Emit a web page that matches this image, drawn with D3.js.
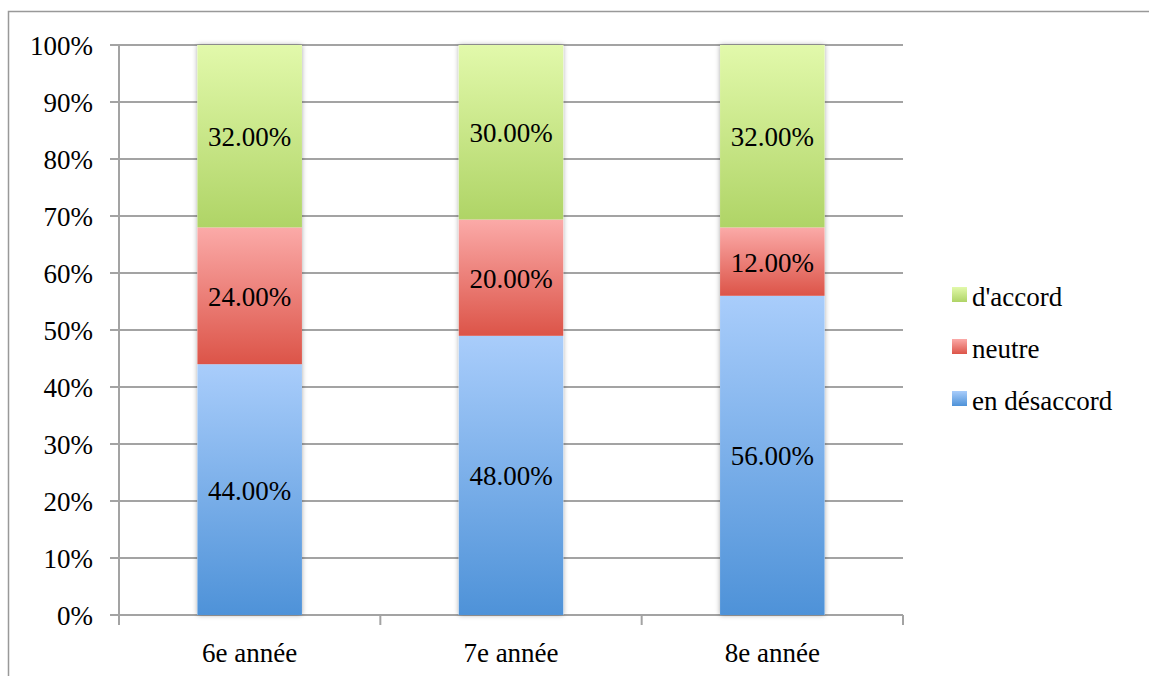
<!DOCTYPE html>
<html><head><meta charset="utf-8">
<script src="https://cdn.jsdelivr.net/npm/d3@7"></script>
<style>
html,body{margin:0;padding:0;background:#fff;}
</style></head>
<body><svg id="c" width="1149" height="676"></svg>
<script>
const categories = ["6e année", "7e année", "8e année"];
const seriesNames = ["en désaccord", "neutre", "d'accord"];
const enDesaccord = [44, 48, 56];
const neutre = [24, 20, 12];
const dAccord = [32, 30, 32];
const yTicks = [0, 0.1, 0.2, 0.3, 0.4, 0.5, 0.6, 0.7, 0.8, 0.9, 1];

const FONT = "'Liberation Serif', Tinos, 'Times New Roman', Times, 'DejaVu Serif', 'Noto Serif', serif";
const svg = d3.select("#c").style("font-family", FONT);
const W = 1149, H = 676;
const m = {l: 119, r: 903, t: 45, b: 615};
const fs = 27;

const rows = categories.map((c, i) => ({cat: c, "en désaccord": enDesaccord[i], "neutre": neutre[i], "d'accord": dAccord[i]}));
const stack = d3.stack().keys(seriesNames).offset(d3.stackOffsetExpand);
const layers = stack(rows);

const x = d3.scaleBand().domain(categories).range([m.l, m.r]).paddingInner(0.6).paddingOuter(0.3);
const xOuter = d3.scaleBand().domain(categories).range([m.l, m.r]);
const y = d3.scaleLinear().domain([0, 1]).range([m.b, m.t]);

const colors = {
  "en désaccord": ["#a9cdfb", "#4e92d8"],
  "neutre": ["#fbaaa8", "#dc5448"],
  "d'accord": ["#e2f9ab", "#afd466"]
};
const defs = svg.append("defs");
seriesNames.forEach((s, i) => {
  const g = defs.append("linearGradient").attr("id", "g" + i).attr("x1", 0).attr("y1", 0).attr("x2", 0).attr("y2", 1);
  g.append("stop").attr("offset", "0%").attr("stop-color", colors[s][0]);
  g.append("stop").attr("offset", "100%").attr("stop-color", colors[s][1]);
});
const f = defs.append("filter").attr("id", "sh").attr("x", "-10%").attr("y", "-5%").attr("width", "120%").attr("height", "110%");
f.append("feDropShadow").attr("dx", 0).attr("dy", 0).attr("stdDeviation", 2.5).attr("flood-color", "#000").attr("flood-opacity", 0.35);

svg.append("rect").attr("x", 8.5).attr("y", 11.5).attr("width", W + 20).attr("height", H + 20)
  .attr("fill", "none").attr("stroke", "#999").attr("stroke-width", 1.5);

svg.append("g").selectAll("line").data(yTicks).join("line")
  .attr("x1", m.l - 9).attr("x2", m.r).attr("y1", d => y(d)).attr("y2", d => y(d))
  .attr("stroke", "#a3a3a3").attr("stroke-width", 2);

svg.append("line").attr("x1", m.l).attr("x2", m.l).attr("y1", m.t).attr("y2", m.b + 10)
  .attr("stroke", "#a3a3a3").attr("stroke-width", 2);
const xTickPos = categories.map(c => xOuter(c)).concat([m.r]);
svg.append("g").selectAll("line").data(xTickPos).join("line")
  .attr("x1", d => d).attr("x2", d => d).attr("y1", m.b).attr("y2", m.b + 10)
  .attr("stroke", "#a3a3a3").attr("stroke-width", 2);

svg.append("g").selectAll("text").data(yTicks).join("text")
  .attr("x", 93).attr("y", d => y(d) + 10).attr("text-anchor", "end")
  .style("font-family", FONT).attr("font-size", fs).text(d => d3.format(".0%")(d));

svg.append("g").selectAll("text").data(categories).join("text")
  .attr("x", d => x(d) + x.bandwidth() / 2).attr("y", 662).attr("text-anchor", "middle")
  .style("font-family", FONT).attr("font-size", fs).text(d => d);

const gBars = svg.append("g");
gBars.selectAll("rect.shadow").data(categories).join("rect").attr("class", "shadow")
  .attr("x", d => x(d)).attr("y", y(1)).attr("width", x.bandwidth()).attr("height", y(0) - y(1))
  .attr("fill", "#fff").attr("filter", "url(#sh)");
layers.forEach((layer, i) => {
  gBars.append("g").selectAll("rect").data(layer).join("rect")
    .attr("x", d => x(d.data.cat)).attr("width", x.bandwidth())
    .attr("y", d => y(d[1])).attr("height", d => y(d[0]) - y(d[1]))
    .attr("fill", "url(#g" + i + ")");
});
layers.forEach((layer) => {
  const key = layer.key;
  gBars.append("g").selectAll("text").data(layer).join("text")
    .attr("x", d => x(d.data.cat) + x.bandwidth() / 2)
    .attr("y", d => (y(d[0]) + y(d[1])) / 2 + 10)
    .attr("text-anchor", "middle").style("font-family", FONT).attr("font-size", fs)
    .text(d => d3.format(".2f")(d.data[key]) + "%");
});

const legOrder = seriesNames.slice().reverse();
const lg = svg.append("g");
legOrder.forEach((s, i) => {
  const idx = seriesNames.indexOf(s);
  const yy = 306 + i * 52;
  lg.append("rect").attr("x", 952).attr("y", yy - 19).attr("width", 15).attr("height", 15)
    .attr("fill", "url(#g" + idx + ")");
  lg.append("text").attr("x", 972).attr("y", yy).style("font-family", FONT).attr("font-size", fs).text(s);
});
</script></body></html>
